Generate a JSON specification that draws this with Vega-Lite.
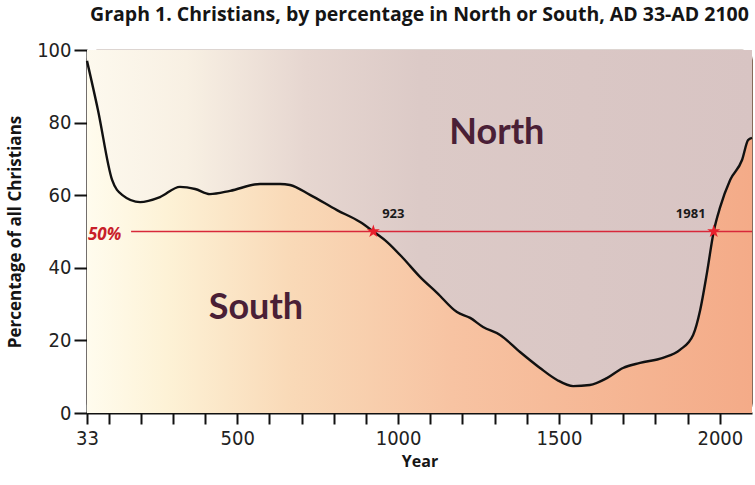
{
  "$schema": "https://vega.github.io/schema/vega-lite/v6.json",
  "width": 665,
  "height": 363,
  "autosize": {"type": "none"},
  "padding": {"left": 87, "top": 50, "right": 3, "bottom": 72},
  "background": "#ffffff",
  "title": {
    "text": "Graph 1. Christians, by percentage in North or South, AD 33-AD 2100",
    "font": "Open Sans",
    "fontSize": 19.5,
    "fontWeight": "bold",
    "color": "#151515",
    "anchor": "middle",
    "offset": 15
  },
  "config": {
    "view": {"stroke": "#7a5a4a", "strokeWidth": 1.2, "cornerRadius": 10},
    "axis": {
      "grid": false,
      "domainColor": "#111111",
      "domainWidth": 2,
      "tickColor": "#111111",
      "tickWidth": 2,
      "labelFont": "Liberation Sans Narrow, DejaVu Sans Condensed, Roboto",
      "labelFontSize": 20,
      "labelColor": "#222222",
      "titleFont": "Open Sans",
      "titleFontWeight": "bold",
      "titleColor": "#151515"
    }
  },
  "datasets": {
    "curve": [
      {"year": 33, "pct": 97.0},
      {"year": 67, "pct": 83.5},
      {"year": 111, "pct": 64.2},
      {"year": 142, "pct": 60.1},
      {"year": 198, "pct": 58.1},
      {"year": 260, "pct": 59.5},
      {"year": 322, "pct": 62.3},
      {"year": 369, "pct": 61.7},
      {"year": 415, "pct": 60.3},
      {"year": 478, "pct": 61.2},
      {"year": 571, "pct": 63.1},
      {"year": 633, "pct": 63.1},
      {"year": 664, "pct": 62.8},
      {"year": 726, "pct": 60.1},
      {"year": 810, "pct": 55.9},
      {"year": 882, "pct": 52.6},
      {"year": 923, "pct": 50.0},
      {"year": 966, "pct": 47.1},
      {"year": 1015, "pct": 42.7},
      {"year": 1068, "pct": 37.5},
      {"year": 1121, "pct": 33.1},
      {"year": 1183, "pct": 27.8},
      {"year": 1224, "pct": 26.2},
      {"year": 1264, "pct": 23.7},
      {"year": 1317, "pct": 21.5},
      {"year": 1379, "pct": 16.8},
      {"year": 1441, "pct": 12.4},
      {"year": 1494, "pct": 9.1},
      {"year": 1544, "pct": 7.4},
      {"year": 1596, "pct": 7.7},
      {"year": 1649, "pct": 9.6},
      {"year": 1699, "pct": 12.4},
      {"year": 1752, "pct": 13.8},
      {"year": 1823, "pct": 15.2},
      {"year": 1876, "pct": 17.4},
      {"year": 1917, "pct": 21.5},
      {"year": 1939, "pct": 28.4},
      {"year": 1960, "pct": 38.6},
      {"year": 1981, "pct": 50.0},
      {"year": 2001, "pct": 56.7},
      {"year": 2032, "pct": 64.2},
      {"year": 2069, "pct": 69.7},
      {"year": 2088, "pct": 75.2},
      {"year": 2100, "pct": 75.8}
    ],
    "crossings": [
      {"year": 923, "pct": 50, "label": "923"},
      {"year": 1981, "pct": 50, "label": "1981"}
    ],
    "reference": [
      {"year": 33, "pct": 50, "label": "50%", "lineFrom": 170, "lineTo": 2100}
    ],
    "regions": [
      {"label": "North", "year": 1307, "pct": 77},
      {"label": "South", "year": 558, "pct": 29}
    ]
  },
  "layer": [
    {
      "data": {"name": "curve"},
      "mark": {
        "type": "area",
        "interpolate": "monotone",
        "color": {
          "gradient": "linear",
          "x1": 0, "x2": 1, "y1": 0, "y2": 0,
          "stops": [
            {"offset": 0, "color": "#fdf9ee"},
            {"offset": 0.15, "color": "#f8f0e3"},
            {"offset": 0.33, "color": "#e6d6d0"},
            {"offset": 0.5, "color": "#dccac7"},
            {"offset": 1, "color": "#d8c4c3"}
          ]
        }
      },
      "encoding": {
        "x": {
          "field": "year",
          "type": "quantitative",
          "scale": {"domain": [33, 2100], "nice": false, "zero": false},
          "axis": {
            "title": "Year",
            "titleFontSize": 16,
            "values": [33, 100, 200, 300, 400, 500, 600, 700, 800, 900, 1000, 1100, 1200, 1300, 1400, 1500, 1600, 1700, 1800, 1900, 2000],
            "tickCount": 60,
            "format": "d",
            "labelExpr": "(datum.value == 33 || datum.value % 500 == 0) ? datum.label : ''",
            "tickSize": 11,
            "labelPadding": 4,
            "labelFlush": false,
            "labelOverlap": false,
            "titlePadding": 5
          }
        },
        "y": {
          "field": "pct",
          "type": "quantitative",
          "scale": {"domain": [0, 100], "nice": false},
          "axis": {
            "title": "Percentage of all Christians",
            "titleFontSize": 17,
            "values": [0, 20, 40, 60, 80, 100],
            "tickSize": 13,
            "labelPadding": 3,
            "titlePadding": 12
          }
        },
        "y2": {"datum": 100}
      }
    },
    {
      "data": {"name": "curve"},
      "mark": {
        "type": "area",
        "interpolate": "monotone",
        "color": {
          "gradient": "linear",
          "x1": 0, "x2": 1, "y1": 0, "y2": 0,
          "stops": [
            {"offset": 0, "color": "#fffcee"},
            {"offset": 0.12, "color": "#fdf2d6"},
            {"offset": 0.3, "color": "#f9dab8"},
            {"offset": 0.55, "color": "#f7c3a2"},
            {"offset": 1, "color": "#f4ab88"}
          ]
        }
      },
      "encoding": {
        "x": {"field": "year", "type": "quantitative"},
        "y": {"field": "pct", "type": "quantitative"},
        "y2": {"datum": 0}
      }
    },
    {
      "data": {"name": "curve"},
      "mark": {"type": "line", "interpolate": "monotone", "color": "#111111", "strokeWidth": 2.4},
      "encoding": {
        "x": {"field": "year", "type": "quantitative"},
        "y": {"field": "pct", "type": "quantitative"}
      }
    },
    {
      "data": {"name": "reference"},
      "mark": {"type": "rule", "stroke": "#d8283a", "color": "#d8283a", "strokeWidth": 1.3, "opacity": 1},
      "encoding": {
        "x": {"field": "lineFrom", "type": "quantitative"},
        "x2": {"field": "lineTo"},
        "y": {"field": "pct", "type": "quantitative"}
      }
    },
    {
      "data": {"name": "reference"},
      "mark": {"type": "text", "font": "Open Sans", "fontWeight": "bold", "fontStyle": "italic", "fontSize": 17, "color": "#c8202a", "align": "left", "baseline": "middle", "dx": 1, "dy": 3},
      "encoding": {
        "x": {"field": "year", "type": "quantitative"},
        "y": {"field": "pct", "type": "quantitative"},
        "text": {"field": "label"}
      }
    },
    {
      "data": {"name": "crossings"},
      "mark": {
        "type": "point",
        "shape": "M0,-1L0.2245,-0.309L0.951,-0.309L0.363,0.118L0.588,0.809L0,0.382L-0.588,0.809L-0.363,0.118L-0.951,-0.309L-0.2245,-0.309Z",
        "filled": true,
        "color": "#e8202c",
        "size": 190,
        "opacity": 1
      },
      "encoding": {
        "x": {"field": "year", "type": "quantitative"},
        "y": {"field": "pct", "type": "quantitative"}
      }
    },
    {
      "data": {"name": "crossings"},
      "transform": [{"filter": "datum.year < 1000"}],
      "mark": {"type": "text", "font": "Open Sans", "fontWeight": "bold", "fontSize": 13, "color": "#1a1a1a", "dx": 20, "dy": -18},
      "encoding": {
        "x": {"field": "year", "type": "quantitative"},
        "y": {"field": "pct", "type": "quantitative"},
        "text": {"field": "label"}
      }
    },
    {
      "data": {"name": "crossings"},
      "transform": [{"filter": "datum.year > 1000"}],
      "mark": {"type": "text", "font": "Open Sans", "fontWeight": "bold", "fontSize": 13, "color": "#1a1a1a", "dx": -23, "dy": -18},
      "encoding": {
        "x": {"field": "year", "type": "quantitative"},
        "y": {"field": "pct", "type": "quantitative"},
        "text": {"field": "label"}
      }
    },
    {
      "data": {"name": "regions"},
      "mark": {"type": "text", "font": "Lato", "fontWeight": "bold", "fontSize": 36, "color": "#4a1f36"},
      "encoding": {
        "x": {"field": "year", "type": "quantitative"},
        "y": {"field": "pct", "type": "quantitative"},
        "text": {"field": "label"}
      }
    }
  ]
}
